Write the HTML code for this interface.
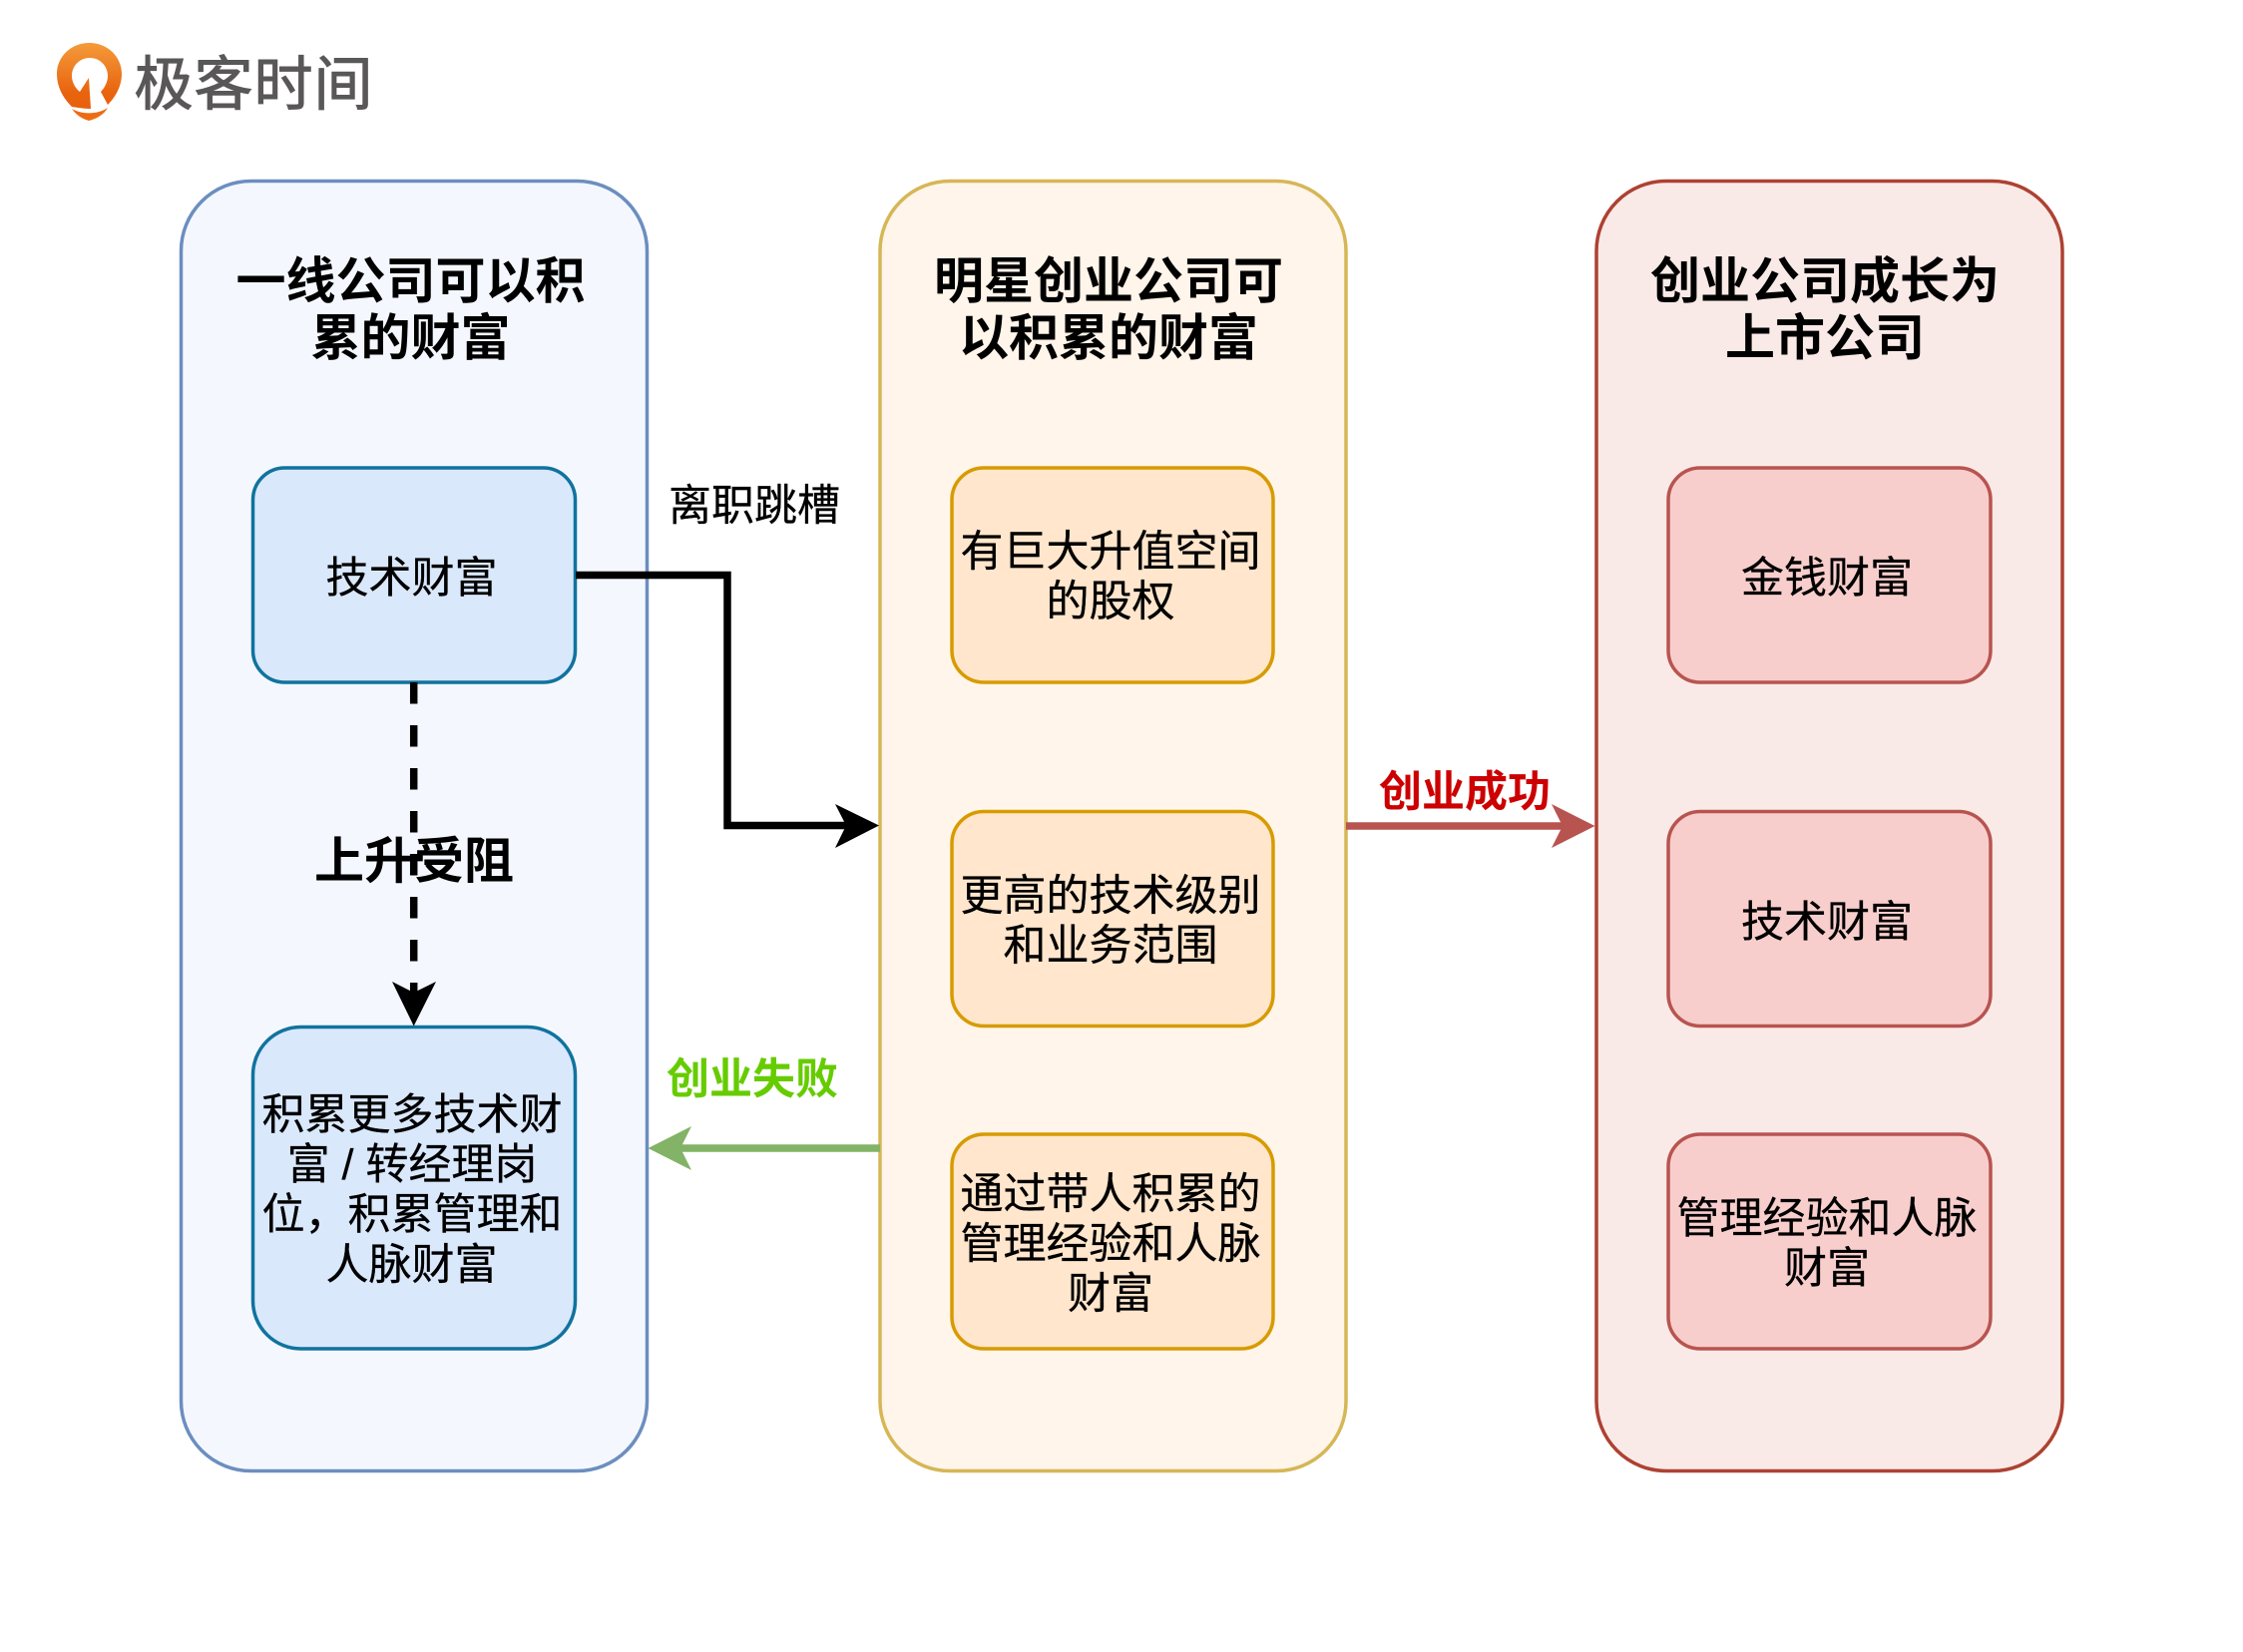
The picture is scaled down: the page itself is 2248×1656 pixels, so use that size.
<!DOCTYPE html>
<html lang="zh">
<head>
<meta charset="utf-8">
<title>创业财富图</title>
<style>
html,body{margin:0;padding:0;background:#fff;width:2248px;height:1656px;overflow:hidden}
svg{display:block}
text{font-family:"Liberation Sans","Noto Sans CJK SC",sans-serif;text-anchor:middle;fill:#000}
.n{font-size:43px;stroke:#000;stroke-width:.3px}
.t{font-size:50px;font-weight:700}
</style>
</head>
<body>
<svg width="2248" height="1656" viewBox="0 0 2248 1656" xmlns="http://www.w3.org/2000/svg">
<defs>
<linearGradient id="lg" x1="0" y1="0" x2="0" y2="1">
<stop offset="0" stop-color="#f49b3a"/>
<stop offset="0.75" stop-color="#e9640f"/>
<stop offset="1" stop-color="#e8600e"/>
</linearGradient>
</defs>
<rect width="2248" height="1656" fill="#fff"/>

<!-- logo -->
<path d="M89.500 43C108 43 122 57 122 74C122 86 116 97 108 105L101 92C105 88 108 82 108 76C108 66 100 58 90 58C80 58 72 66 72 76C72 82 75 88 80 92L89 78L91 109C85 109 78 108 72 107C63 98 57 87 57 74C57 57 71 43 89.500 43Z" fill="url(#lg)"/>
<path d="M72 109C82 115 98 115 108 108C104 115 97 119 89 121C82 119 76 115 72 109Z" fill="#ec6c14"/>
<text x="254.500" y="105" style="font-size:59px;letter-spacing:1px;fill:#595757;stroke:#595757;stroke-width:1px">极客时间</text>

<!-- panels -->
<rect x="181.500" y="181.500" width="467" height="1293" rx="70" fill="#f4f8fe" stroke="#6c8ebf" stroke-width="3.500"/>
<rect x="882" y="181.500" width="467" height="1293" rx="70" fill="#fff5ea" stroke="#d6b656" stroke-width="3.500"/>
<rect x="1600" y="181.500" width="467" height="1293" rx="70" fill="#f9eae7" stroke="#ae4132" stroke-width="3.500"/>

<!-- inner boxes -->
<g fill="#dae8fc" stroke="#10739e" stroke-width="3.500">
<rect x="253.500" y="469" width="323" height="215" rx="32"/>
<rect x="253.500" y="1029.500" width="323" height="322.500" rx="48"/>
</g>
<g fill="#ffe6cc" stroke="#d79b00" stroke-width="3.500">
<rect x="954" y="469" width="322" height="215" rx="32"/>
<rect x="954" y="813.500" width="322" height="215" rx="32"/>
<rect x="954" y="1137" width="322" height="215" rx="32"/>
</g>
<g fill="#f8cecc" stroke="#b85450" stroke-width="3.500">
<rect x="1672" y="469" width="323" height="215" rx="32"/>
<rect x="1672" y="813.500" width="323" height="215" rx="32"/>
<rect x="1672" y="1137" width="323" height="215" rx="32"/>
</g>

<!-- connectors -->
<polyline points="577,576.500 729,576.500 729,827.500 850,827.500" fill="none" stroke="#000" stroke-width="7.500"/>
<path d="M881 827.500L837 806L848 827.500L837 850Z" fill="#000"/>

<line x1="414.700" y1="684" x2="414.700" y2="1005" stroke="#000" stroke-width="7.500" stroke-dasharray="21.500 21.500"/>
<path d="M414.700 1028.500L393 984L414.700 995L437 984Z" fill="#000"/>

<line x1="1349" y1="828" x2="1570" y2="828" stroke="#b85450" stroke-width="7.500"/>
<path d="M1598.500 828L1555 806L1566 828L1555 850Z" fill="#b85450"/>

<line x1="882" y1="1151" x2="680" y2="1151" stroke="#82b366" stroke-width="7.500"/>
<path d="M649.500 1151L693 1129L682 1151L693 1173Z" fill="#82b366"/>

<!-- panel titles -->
<text class="t" x="411.500" y="299">一线公司可以积</text>
<text class="t" x="411.500" y="356">累的财富</text>
<text class="t" x="1111" y="299">明星创业公司可</text>
<text class="t" x="1111" y="356">以积累的财富</text>
<text class="t" x="1829" y="299">创业公司成长为</text>
<text class="t" x="1829" y="356">上市公司</text>

<!-- node labels -->
<text class="n" x="412.500" y="594">技术财富</text>
<text class="n" x="413" y="1132">积累更多技术财</text>
<text class="n" x="413" y="1182">富 / 转经理岗</text>
<text class="n" x="413" y="1232">位，积累管理和</text>
<text class="n" x="412.500" y="1282.500">人脉财富</text>

<text class="n" x="1113" y="567.500">有巨大升值空间</text>
<text class="n" x="1113" y="617.500">的股权</text>
<text class="n" x="1113" y="912.500">更高的技术级别</text>
<text class="n" x="1113" y="962.500">和业务范围</text>
<text class="n" x="1113" y="1211.500">通过带人积累的</text>
<text class="n" x="1113" y="1261.500">管理经验和人脉</text>
<text class="n" x="1113" y="1311.500">财富</text>

<text class="n" x="1831" y="594">金钱财富</text>
<text class="n" x="1831" y="939">技术财富</text>
<text class="n" x="1831" y="1236">管理经验和人脉</text>
<text class="n" x="1831" y="1286">财富</text>

<!-- connector labels -->
<text class="n" x="756" y="521.500">离职跳槽</text>
<text x="415" y="880.500" style="font-size:50px;font-weight:700">上升受阻</text>
<text class="n" x="1468" y="808.500" style="font-weight:700;fill:#cc0000;stroke:none">创业成功</text>
<text class="n" x="754" y="1096.500" style="font-weight:700;fill:#66cc00;stroke:none">创业失败</text>
</svg>
</body>
</html>
